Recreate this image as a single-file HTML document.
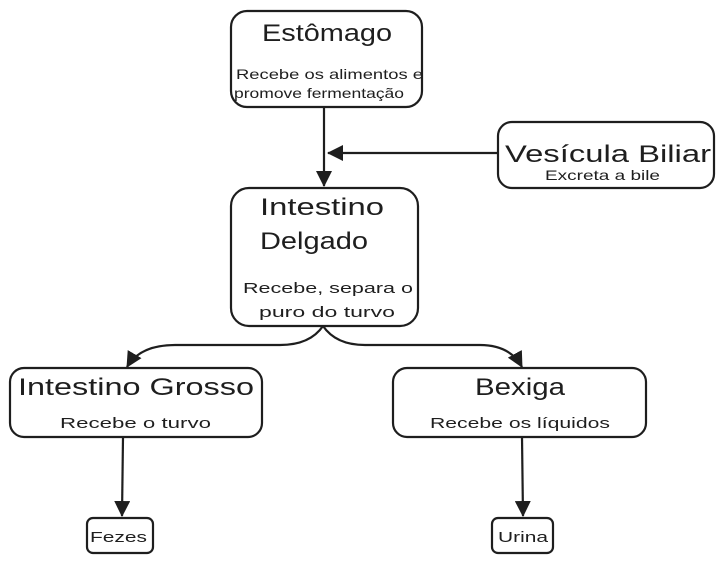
<!DOCTYPE html>
<html><head><meta charset="utf-8"><style>
body{margin:0;background:#fff;width:723px;height:563px;overflow:hidden}
svg{display:block}
text{font-family:"Liberation Sans",sans-serif;fill:#1e1e1e}
.t{font-size:24px}.s{font-size:14px}.f{font-size:15px}
</style></head><body>
<svg width="723" height="563" viewBox="0 0 723 563">
<defs>
<marker id="b" markerWidth="16" markerHeight="16" refX="15" refY="8" orient="auto" markerUnits="userSpaceOnUse" viewBox="0 0 16 16"><path d="M0,0 L16,8 L0,16 z" fill="#1e1e1e"/></marker></defs>
<g fill="none" stroke="#1e1e1e" stroke-width="2.2">
<rect x="231" y="11" width="191" height="96" rx="16"/>
<rect x="498" y="122" width="216" height="66" rx="14"/>
<rect x="231" y="188" width="187" height="138" rx="18"/>
<rect x="10" y="368" width="252" height="69" rx="14"/>
<rect x="393" y="368" width="253" height="69" rx="14"/>
<rect x="87" y="518" width="66" height="35" rx="6"/>
<rect x="492" y="518" width="61" height="35" rx="6"/>
<path d="M324 107 L324 186" marker-end="url(#b)"/>
<path d="M498 153 L328 153" marker-end="url(#b)"/>
<path d="M323 326 Q310 345 280 345 L175 345 Q140 345 127 367" marker-end="url(#b)"/>
<path d="M323 326 Q336 345 365 345 L480 345 Q510 345 522 367" marker-end="url(#b)"/>
<path d="M123 437 L122 516" marker-end="url(#b)"/>
<path d="M522 437 L523 516" marker-end="url(#b)"/>
</g>
<g lengthAdjust="spacingAndGlyphs">
<text class="t" x="262" y="41" textLength="130" lengthAdjust="spacingAndGlyphs">Estômago</text>
<text class="s" x="236" y="79" textLength="187" lengthAdjust="spacingAndGlyphs">Recebe os alimentos e</text>
<text class="s" x="234" y="98" textLength="170" lengthAdjust="spacingAndGlyphs">promove fermentação</text>
<text class="t" x="505" y="162" textLength="206" lengthAdjust="spacingAndGlyphs">Vesícula Biliar</text>
<text class="s" x="545" y="180" textLength="115" lengthAdjust="spacingAndGlyphs">Excreta a bile</text>
<text class="t" x="260" y="215" textLength="124" lengthAdjust="spacingAndGlyphs">Intestino</text>
<text class="t" x="260" y="249" textLength="108" lengthAdjust="spacingAndGlyphs">Delgado</text>
<text class="f" x="243" y="293" textLength="170" lengthAdjust="spacingAndGlyphs">Recebe, separa o</text>
<text class="f" x="259" y="317" textLength="136" lengthAdjust="spacingAndGlyphs">puro do turvo</text>
<text class="t" x="18" y="395" textLength="236" lengthAdjust="spacingAndGlyphs">Intestino Grosso</text>
<text class="f" x="60" y="428" textLength="151" lengthAdjust="spacingAndGlyphs">Recebe o turvo</text>
<text class="t" x="475" y="395" textLength="90" lengthAdjust="spacingAndGlyphs">Bexiga</text>
<text class="f" x="430" y="428" textLength="180" lengthAdjust="spacingAndGlyphs">Recebe os líquidos</text>
<text class="f" x="90" y="542" textLength="57" lengthAdjust="spacingAndGlyphs">Fezes</text>
<text class="f" x="498" y="542" textLength="50" lengthAdjust="spacingAndGlyphs">Urina</text>
</g>
</svg>
</body></html>
